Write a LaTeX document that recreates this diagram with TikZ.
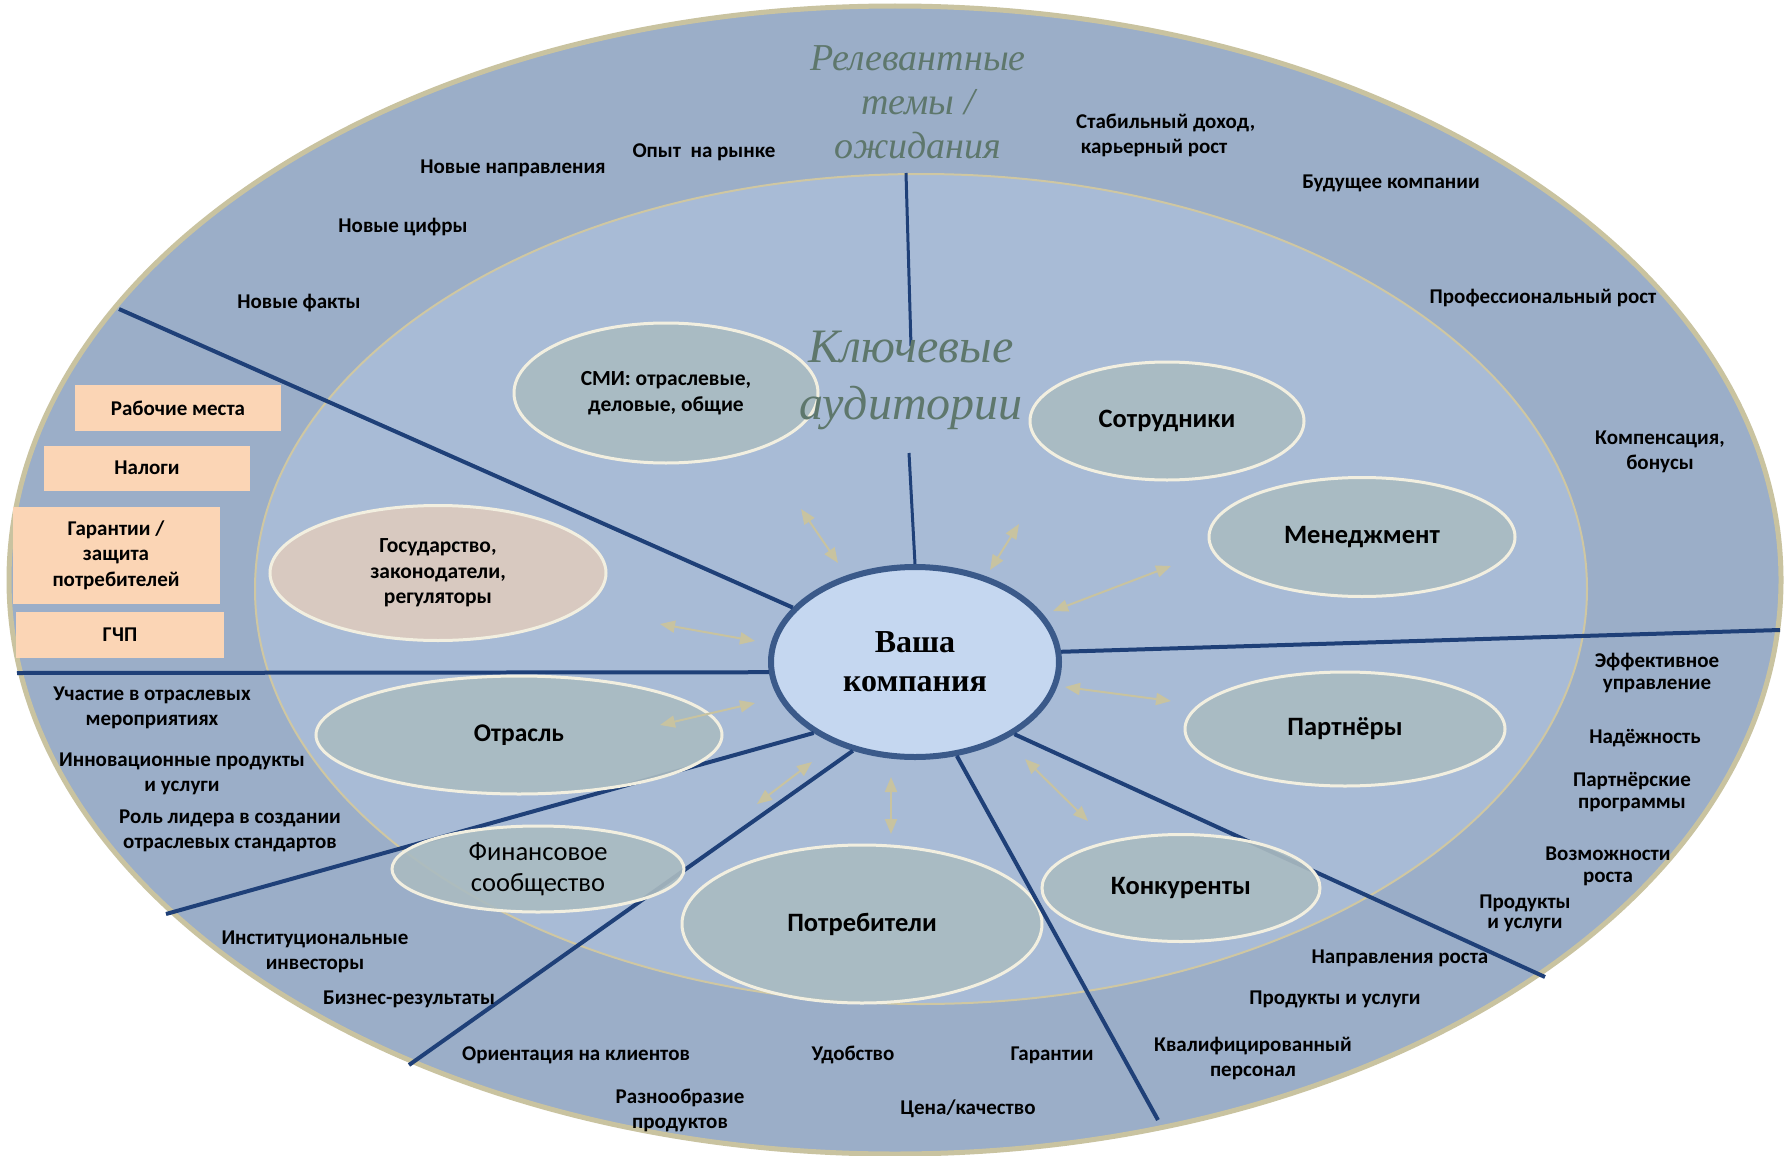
\documentclass[tikz,border=0pt]{standalone}
\usepackage{fontspec}
\setmainfont{Carlito}
\newfontfamily\tnr{Liberation Serif}
\usetikzlibrary{shapes.geometric,arrows.meta}
\definecolor{ringblue}{HTML}{9BAEC8}
\definecolor{ringedge}{HTML}{C9C3A0}
\definecolor{innerblue}{HTML}{A8BBD6}
\definecolor{inneredge}{HTML}{CFC7A2}
\definecolor{audfill}{HTML}{AABBC1}
\definecolor{cream}{HTML}{F2EFE0}
\definecolor{govfill}{HTML}{DECBBE}
\definecolor{compfill}{HTML}{C5D7F0}
\definecolor{compedge}{HTML}{3B5A8A}
\definecolor{navy}{HTML}{1F4078}
\definecolor{peach}{HTML}{FBD5B5}
\definecolor{arrowtan}{HTML}{C8C3A0}
\definecolor{titlegreen}{HTML}{5E776C}
\begin{document}
\begin{tikzpicture}[x=1pt,y=-1pt,
  sector/.style={draw=navy,line width=4pt},
  dblarrow/.style={draw=arrowtan,line width=2pt,{Triangle[length=15pt,width=12pt]}-{Triangle[length=15pt,width=12pt]}},
  aud/.style={ellipse,draw=cream,line width=3pt,fill=audfill,fill opacity=0.9,text opacity=1,inner sep=0pt,align=center,font=\bfseries\fontsize{26.5}{30}\selectfont},
  lab/.style={font=\bfseries\fontsize{21}{25}\selectfont,align=center,inner sep=0pt},
  peachbox/.style={rectangle,fill=peach,inner sep=0pt,align=center,font=\bfseries\fontsize{21}{25.5}\selectfont},
  title/.style={font=\tnr\itshape,text=titlegreen,align=center,inner sep=0pt}]
\useasboundingbox (0,0) rectangle (1789,1156);
\fill[white] (0,0) rectangle (1789,1156);

% rings
\node[ellipse,draw=ringedge,line width=5pt,fill=ringblue,minimum width=1772pt,minimum height=1148pt,inner sep=0pt] (outer) at (895,580) {};
\node[ellipse,draw=inneredge,line width=2pt,fill=innerblue,minimum width=1332pt,minimum height=830pt,inner sep=0pt] (inner) at (921,589) {};

% centre
\node[ellipse,draw=compedge,line width=6pt,fill=compfill,minimum width=288pt,minimum height=190pt,inner sep=0pt,align=center,font=\tnr\bfseries\fontsize{32}{39}\selectfont] (comp) at (915,662) {Ваша\\компания};

% sector line ends
\coordinate (s1) at (119,309);
\coordinate (s2) at (17,673);
\coordinate (s3) at (166,914);
\coordinate (s4) at (409,1065);
\coordinate (s5) at (1158,1120);
\coordinate (s6) at (1545,977);
\coordinate (s7) at (1780,630);
\coordinate (s8a) at (906,173);
\coordinate (s8b) at (911,346);
\coordinate (s8c) at (909,453);

\draw[sector] (s1) -- (comp.156.5);
\draw[sector] (s2) -- (comp.184.4);
\draw[sector] (s3) -- (comp.215.3);
\draw[sector] (s4) -- (comp.235.7);
\draw[sector] (s6) -- (comp.324.5);
\draw[sector] (s7) -- (comp.4.4);
\draw[sector,line width=3pt] (s8a) -- (s8b);
\draw[sector,line width=3pt] (s8c) -- (comp.north);

% audiences
\node[aud,minimum width=304pt,minimum height=140pt,font=\bfseries\fontsize{21.5}{26}\selectfont] (smi) at (666,393) {СМИ: отраслевые,\\деловые, общие};
\node[aud,minimum width=274pt,minimum height=118pt] (staff) at (1167,421) {Сотрудники};
\node[aud,minimum width=306pt,minimum height=119pt] (mgmt) at (1362,537) {Менеджмент};
\node[aud,fill=govfill,minimum width=336pt,minimum height=135pt,font=\bfseries\fontsize{21.5}{25.5}\selectfont] (gov) at (438,573) {Государство,\\законодатели,\\регуляторы};
\node[aud,minimum width=406pt,minimum height=118pt,font=\bfseries\fontsize{25.5}{30}\selectfont] (ind) at (519,735) {Отрасль};
\node[aud,minimum width=292pt,minimum height=86pt,font=\fontsize{26.5}{31}\selectfont] (fin) at (538,869) {Финансовое\\сообщество};
\node[aud,minimum width=360pt,minimum height=158pt] (cons) at (862,924) {Потребители};
\node[aud,minimum width=278pt,minimum height=107pt] (comps) at (1181,888) {Конкуренты};
\node[aud,minimum width=320pt,minimum height=114pt] (part) at (1345,729) {Партнёры};

\draw[sector] (s5) -- (comp.294.6);

% arrows
\coordinate (a1s) at (801,509); \coordinate (a1e) at (838,563);
\coordinate (a2s) at (1019,524); \coordinate (a2e) at (990,570);
\coordinate (a3s) at (1171,566); \coordinate (a3e) at (1053,611);
\coordinate (a4s) at (660,624); \coordinate (a4e) at (755,641);
\coordinate (a5s) at (660,725); \coordinate (a5e) at (755,703);
\coordinate (a6s) at (757,804); \coordinate (a6e) at (812,762);
\coordinate (a7s) at (891,777); \coordinate (a7e) at (891,834);
\coordinate (a8s) at (1025,759); \coordinate (a8e) at (1088,821);
\coordinate (a9s) at (1065,687); \coordinate (a9e) at (1171,701);
\foreach \i in {1,...,9} {\draw[dblarrow] (a\i s) -- (a\i e);}

% titles
\node[title,font=\tnr\itshape\fontsize{38}{44}\selectfont] (reltitle) at (918,102) {Релевантные\\темы /\\ожидания};
\node[title,font=\tnr\itshape\fontsize{48}{57}\selectfont] (keytitle) at (911,380) {Ключевые\\аудитории};

% peach boxes
\node[peachbox,minimum width=206pt,minimum height=46pt] (pb1) at (178,408) {Рабочие места};
\node[peachbox,minimum width=206pt,minimum height=45pt] (pb2) at (147,468) {Налоги};
\node[peachbox,minimum width=207pt,minimum height=97pt] (pb3) at (116,555) {Гарантии /\\защита\\потребителей};
\node[peachbox,minimum width=208pt,minimum height=46pt] (pb4) at (120,635) {ГЧП};

% ring labels: top
\node[lab] (t1) at (513,168) {Новые направления};
\node[lab] (t2) at (704,152) {Опыт\ \ на рынке};
\node[lab] (t3) at (403,227) {Новые цифры};
\node[lab] (t4) at (299,303) {Новые факты};
\node[lab,align=left,anchor=west] (t5) at (1076,135) {Стабильный доход,\\\ карьерный рост};
\node[lab] (t6) at (1391,183) {Будущее компании};
\node[lab] (t7) at (1543,298) {Профессиональный рост};
\node[lab] (t8) at (1660,452) {Компенсация,\\бонусы};
% right
\node[lab,font=\bfseries\fontsize{21}{22}\selectfont] (r1) at (1657,673) {Эффективное\\управление};
\node[lab] (r2) at (1645,738) {Надёжность};
\node[lab,font=\bfseries\fontsize{21}{22}\selectfont] (r3) at (1632,792) {Партнёрские\\программы};
\node[lab,font=\bfseries\fontsize{21}{22}\selectfont] (r4) at (1608,866) {Возможности\\роста};
\node[lab,font=\bfseries\fontsize{21}{20}\selectfont] (r5) at (1525,913) {Продукты\\и услуги};
% bottom
\node[lab] (b1) at (1400,958) {Направления роста};
\node[lab] (b2) at (1335,999) {Продукты и услуги};
\node[lab] (b3) at (1253,1058) {Квалифицированный\\персонал};
\node[lab] (b4) at (1052,1055) {Гарантии};
\node[lab] (b5) at (968,1109) {Цена/качество};
\node[lab] (b6) at (853,1055) {Удобство};
\node[lab] (b7) at (576,1055) {Ориентация на клиентов};
\node[lab] (b8) at (680,1110) {Разнообразие\\продуктов};
\node[lab] (b9) at (409,999) {Бизнес-результаты};
\node[lab] (b10) at (315,952) {Институциональные\\инвесторы};
% left
\node[lab] (l1) at (230,831) {Роль лидера в создании\\отраслевых стандартов};
\node[lab] (l2) at (182,774) {Инновационные продукты\\и услуги};
\node[lab] (l3) at (152,708) {Участие в отраслевых\\мероприятиях};
\end{tikzpicture}
\end{document}
